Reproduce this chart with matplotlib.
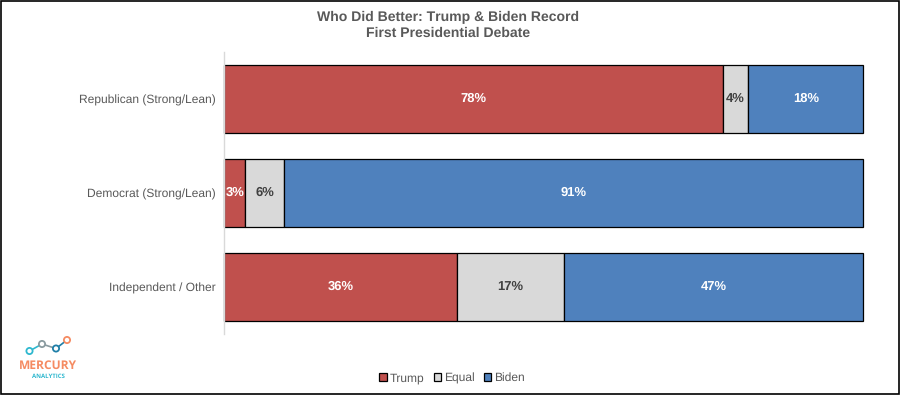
import matplotlib
matplotlib.use("Agg")
import matplotlib.pyplot as plt
from matplotlib.patches import Rectangle

plt.rcParams['font.family'] = ['Liberation Sans', 'DejaVu Sans']
plt.rcParams['text.hinting'] = 'no_hinting'
plt.rcParams['text.hinting_factor'] = 1

categories = ["Republican (Strong/Lean)", "Democrat (Strong/Lean)", "Independent / Other"]
trump = [78.0, 3.3, 36.4]
equal = [4.0, 6.1, 16.7]
biden = [18.0, 90.6, 46.9]
series_names = ["Trump", "Equal", "Biden"]
colors = ["#C0504D", "#D9D9D9", "#4F81BD"]
label_colors = ["white", "#404040", "white"]

logo_x = [29.5, 42, 56, 67]
logo_y = [351, 344, 348.5, 340]
logo_colors = ["#2FB8CF", "#8A9BA0", "#1F7FA8", "#F58B62"]

gray = "#595959"

fig = plt.figure(figsize=(9, 3.95), dpi=100)
W, H = 900, 395
ax = fig.add_axes([224.3 / W, 1 - 334 / H, 639 / W, 282 / H])

left = [0, 0, 0]
for vals, name, col, lc in zip([trump, equal, biden], series_names, colors, label_colors):
    bars = ax.barh(categories, vals, left=left, height=0.715, color=col,
                   edgecolor="black", linewidth=0.9, label=name, clip_on=False)
    for b, v in zip(bars, vals):
        ax.text(b.get_x() + b.get_width() / 2, b.get_y() + b.get_height() / 2,
                "%.0f%%" % v, ha="center", va="center", color=lc,
                fontsize=9, fontweight="bold")
    left = [a + b for a, b in zip(left, vals)]

ax.set_xlim(0, 100)
ax.set_ylim(2.5, -0.5)
ax.xaxis.set_visible(False)
for s in ["top", "right", "bottom"]:
    ax.spines[s].set_visible(False)
ax.spines["left"].set_color("#D9D9D9")
ax.spines["left"].set_linewidth(1)
ax.tick_params(axis="y", length=0, pad=6.5, labelsize=8.8, labelcolor=gray)

fig.text(448.5 / W, 1 - 17.5 / H, "Who Did Better: Trump & Biden Record", ha="center", va="center",
         fontsize=10.2, fontweight="bold", color=gray)
fig.text(448.5 / W, 1 - 33.5 / H, "First Presidential Debate", ha="center", va="center",
         fontsize=10.2, fontweight="bold", color=gray)

fig.legend(loc="center", bbox_to_anchor=(452 / W, 1 - 378 / H), ncol=3, frameon=False,
           fontsize=8.5, labelcolor=gray, handlelength=0.6, handleheight=0.6,
           handletextpad=0.25, columnspacing=0.8, borderpad=0)

# logo
over = fig.add_axes([0, 0, 1, 1], facecolor="none")
over.set_xlim(0, W)
over.set_ylim(H, 0)
over.axis("off")
for i in range(3):
    over.plot(logo_x[i:i + 2], logo_y[i:i + 2], color=logo_colors[i], linewidth=1.2, zorder=1)
over.scatter(logo_x, logo_y, s=20, facecolor="white", edgecolor=logo_colors, linewidth=1.3, zorder=2)
over.text(48, 366, "MERCURY", ha="center", va="center", fontsize=8.6, fontweight="bold",
          color="#F58B62", family="Open Sans")
over.text(48.5, 376, "ANALYTICS", ha="center", va="center", fontsize=4.4, fontweight="bold",
          color="#2FB8CF", family="Open Sans")

# outer border
over.add_patch(Rectangle((0.5, 0.5), W - 1.5, H - 1.5, fill=False, edgecolor="black", linewidth=1.2))

fig.savefig("out.png", dpi=100, facecolor="white")
